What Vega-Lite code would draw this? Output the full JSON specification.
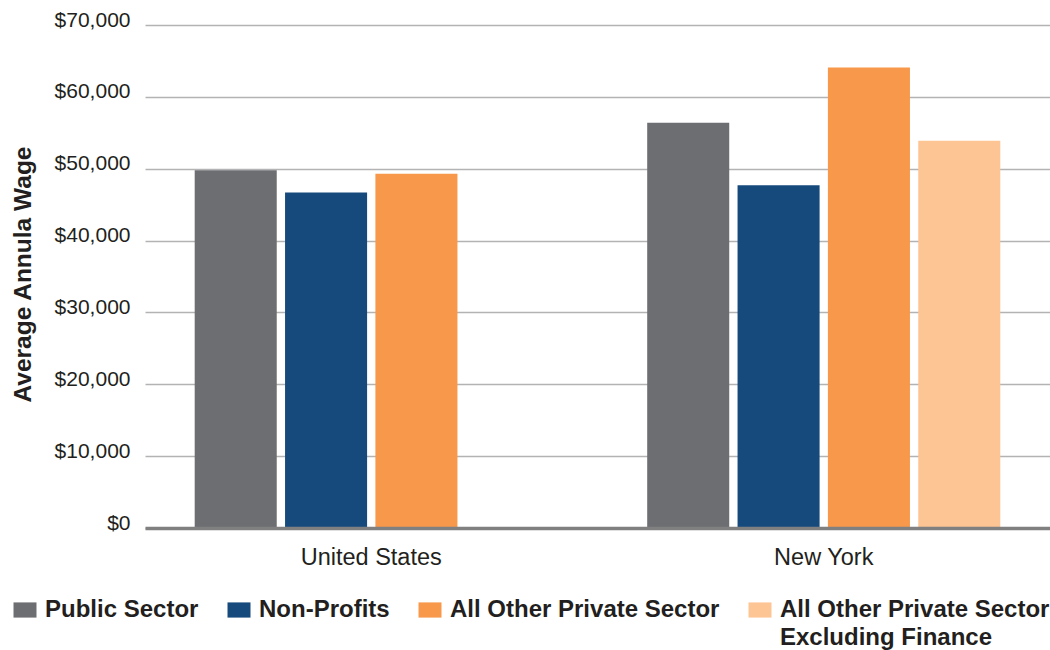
{
  "$schema": "https://vega.github.io/schema/vega-lite/v6.json",
  "autosize": "none",
  "padding": {"left": 145, "top": 25, "right": 0, "bottom": 122},
  "width": 905,
  "height": 503,
  "background": "white",
  "config": {
    "view": {"stroke": null},
    "font": "Liberation Sans"
  },
  "data": {
    "values": [
      {"region": "United States", "sector": "Public Sector", "wage": 49800},
      {"region": "United States", "sector": "Non-Profits", "wage": 46700},
      {"region": "United States", "sector": "All Other Private Sector", "wage": 49300},
      {"region": "New York", "sector": "Public Sector", "wage": 56400},
      {"region": "New York", "sector": "Non-Profits", "wage": 47700},
      {"region": "New York", "sector": "All Other Private Sector", "wage": 64100},
      {"region": "New York", "sector": "All Other Private Sector Excluding Finance", "wage": 53900}
    ]
  },
  "mark": {"type": "bar"},
  "encoding": {
    "x": {
      "field": "region",
      "type": "nominal",
      "sort": ["United States", "New York"],
      "scale": {"paddingInner": 0, "paddingOuter": 0},
      "axis": {
        "title": null,
        "labelAngle": 0,
        "labelFontSize": 23.5,
        "labelColor": "#231f20",
        "labelPadding": 17,
        "ticks": false,
        "domainColor": "#808080",
        "domainWidth": 3.5,
        "zindex": 1
      }
    },
    "xOffset": {
      "field": "sector",
      "type": "nominal",
      "sort": ["Public Sector", "Non-Profits", "All Other Private Sector", "All Other Private Sector Excluding Finance"],
      "scale": {
        "domain": ["Public Sector", "Non-Profits", "All Other Private Sector", "All Other Private Sector Excluding Finance"],
        "paddingInner": 0.092,
        "paddingOuter": 0.55
      }
    },
    "y": {
      "field": "wage",
      "type": "quantitative",
      "scale": {"domain": [0, 70000], "nice": false},
      "axis": {
        "title": "Average Annula Wage",
        "titleFontSize": 24.5,
        "titleFontWeight": "bold",
        "titleColor": "#231f20",
        "titleX": -110,
        "titleY": 249,
        "titleBaseline": "bottom",
        "values": [0, 10000, 20000, 30000, 40000, 50000, 60000, 70000],
        "format": "$,.0f",
        "labelFontSize": 21,
        "labelColor": "#231f20",
        "labelPadding": 15,
        "labelBaseline": "alphabetic",
        "labelOffset": 1,
        "ticks": false,
        "domain": false,
        "grid": true,
        "gridColor": "#b3b3b3",
        "gridWidth": 1.5
      }
    },
    "color": {
      "field": "sector",
      "type": "nominal",
      "scale": {
        "domain": ["Public Sector", "Non-Profits", "All Other Private Sector", "All Other Private Sector Excluding Finance"],
        "range": ["#6d6e72", "#164a7c", "#f7984a", "#fdc594"]
      },
      "legend": {
        "title": null,
        "orient": "none",
        "direction": "horizontal",
        "legendX": -132,
        "legendY": 573,
        "padding": 0,
        "symbolType": "M-1,-0.66H1V0.66H-1Z",
        "symbolSize": 529,
        "symbolStrokeWidth": 0,
        "symbolOpacity": 1,
        "labelFontSize": 24,
        "labelFontWeight": "bold",
        "labelColor": "#231f20",
        "labelOffset": 8,
        "labelLimit": 0,
        "labelBaseline": "alphabetic",
        "columnPadding": 28,
        "labelExpr": "datum.label == 'All Other Private Sector Excluding Finance' ? ['All Other Private Sector', 'Excluding Finance'] : [datum.label, ' ']",
        "encode": {
          "labels": {"update": {"dy": {"value": 7}, "lineHeight": {"value": 28}}}
        }
      }
    }
  }
}
